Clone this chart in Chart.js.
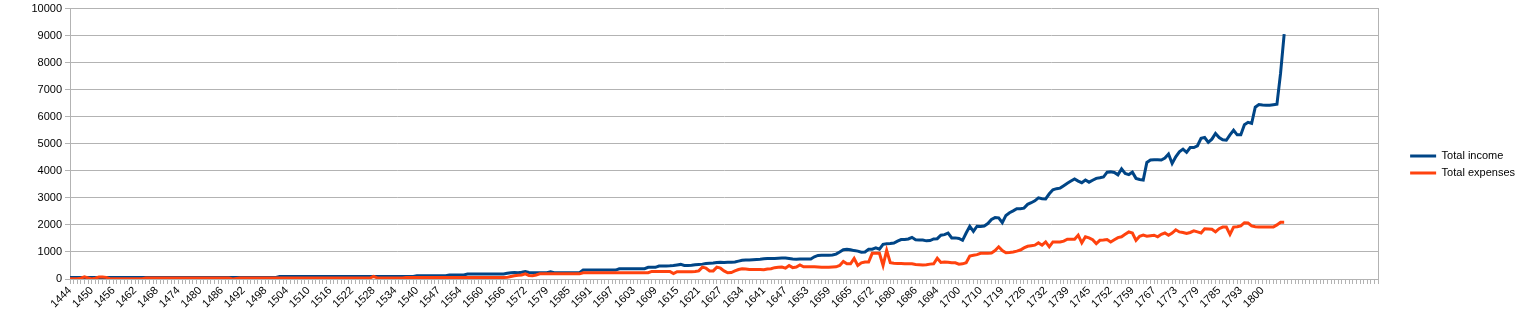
<!DOCTYPE html>
<html><head><meta charset="utf-8">
<script src="https://cdn.jsdelivr.net/npm/chart.js@4.4.1/dist/chart.umd.min.js"></script>
<style>html,body{margin:0;padding:0;background:#fff;}canvas{display:block;}</style>
</head><body>
<canvas id="c" width="1529" height="327"></canvas>
<script>
const categories = [
1444,1445,1446,1447,1448,1449,1450,1451,1452,1453,1454,1455,1456,1457,1458,1459,1460,1461,
1462,1463,1464,1465,1466,1467,1468,1469,1470,1471,1472,1473,1474,1475,1476,1477,1478,1479,
1480,1481,1482,1483,1484,1485,1486,1487,1488,1489,1490,1491,1492,1493,1494,1495,1496,1497,
1498,1499,1500,1501,1502,1503,1504,1505,1506,1507,1508,1509,1510,1511,1512,1513,1514,1515,
1516,1517,1518,1519,1520,1521,1522,1523,1524,1525,1526,1527,1528,1529,1530,1531,1532,1533,
1534,1535,1536,1537,1538,1539,1540,1541,1542,1543,1545,1546,1547,1548,1549,1550,1551,1553,
1554,1555,1556,1557,1558,1559,1560,1561,1562,1563,1564,1565,1566,1567,1568,1569,1570,1571,
1572,1573,1574,1575,1577,1578,1579,1580,1581,1582,1583,1584,1585,1586,1587,1588,1589,1590,
1591,1592,1593,1594,1595,1596,1597,1598,1599,1600,1601,1602,1603,1604,1605,1606,1607,1608,
1609,1610,1611,1612,1613,1614,1615,1616,1617,1618,1619,1620,1621,1622,1623,1624,1625,1626,
1627,1628,1629,1630,1632,1633,1634,1635,1636,1638,1639,1640,1641,1642,1643,1644,1645,1646,
1647,1648,1649,1650,1651,1652,1653,1654,1655,1656,1657,1658,1659,1660,1661,1662,1663,1664,
1665,1666,1667,1668,1670,1671,1672,1673,1675,1676,1677,1679,1680,1681,1682,1683,1684,1685,
1686,1687,1689,1690,1692,1693,1694,1695,1696,1697,1698,1699,1700,1701,1703,1705,1707,1709,
1710,1711,1713,1715,1716,1718,1719,1720,1721,1722,1724,1725,1726,1727,1728,1729,1730,1731,
1732,1733,1734,1736,1737,1738,1739,1740,1741,1742,1743,1744,1745,1746,1747,1749,1750,1751,
1752,1753,1754,1756,1757,1758,1759,1760,1762,1763,1765,1766,1767,1768,1769,1770,1771,1772,
1773,1774,1775,1776,1777,1778,1779,1780,1781,1782,1783,1784,1785,1786,1788,1789,1791,1792,
1793,1794,1795,1796,1797,1799,1800,1801,1802,1803,1804,1805
];

const totalIncome = [
60,60,60,60,60,60,60,60,60,60,
60,60,60,60,60,60,60,60,60,60,
60,60,60,60,60,60,60,60,60,60,
60,60,60,60,60,60,60,60,60,60,
60,60,60,60,60,60,60,60,60,60,
60,60,60,60,60,60,60,60,90,90,
90,90,90,90,90,90,90,90,90,90,
90,90,90,90,90,90,90,90,90,90,
90,90,90,90,90,90,90,90,90,90,
90,90,90,90,90,90,120,120,120,120,
120,120,120,120,120,150,150,150,150,150,
185,185,185,185,185,185,185,185,185,185,
185,210,230,240,235,250,280,240,230,230,
230,230,230,270,235,235,235,235,235,235,
235,235,330,330,330,330,330,330,330,330,
330,330,380,380,380,380,380,380,380,380,
430,430,430,478,480,485,490,500,520,540,
500,500,510,530,540,550,570,580,590,610,
620,610,620,620,630,660,690,700,700,710,
720,730,750,760,760,760,770,780,780,760,
740,730,735,735,735,740,820,870,880,880,
880,890,920,1000,1080,1100,1080,1050,1030,990,
1000,1100,1100,1150,1100,1280,1300,1310,1330,1400,
1460,1460,1480,1540,1450,1440,1440,1410,1420,1480,
1490,1620,1640,1700,1520,1520,1500,1430,1700,1950,
1760,1950,1940,1960,2050,2200,2270,2260,2080,2350,
2450,2520,2600,2600,2620,2760,2820,2890,3000,2970,
2960,3150,3300,3340,3360,3450,3540,3620,3700,3620,
3560,3660,3580,3650,3720,3740,3770,3950,3960,3940,
3850,4070,3900,3860,3950,3720,3680,3660,4310,4400,
4410,4410,4400,4470,4620,4270,4520,4700,4800,4680,
4860,4860,4925,5200,5230,5050,5170,5380,5230,5150,
5130,5330,5500,5330,5330,5700,5790,5750,6350,6450,
6430,6420,6420,6440,6460,7600,9050
];

const totalExpenses = [
10,10,10,30,80,40,0,30,70,70,
60,10,10,10,10,10,10,10,10,10,
10,35,35,35,35,35,35,35,35,35,
35,35,35,35,35,35,35,35,35,35,
35,35,35,35,35,0,20,35,35,35,
35,35,35,35,35,35,35,35,35,35,
35,35,35,35,35,35,35,35,35,35,
35,35,35,35,35,35,35,35,35,35,
35,35,35,35,100,40,40,40,40,40,
40,40,40,55,55,55,55,55,55,55,
55,55,55,55,55,55,55,55,55,55,
55,55,55,55,55,55,55,55,55,55,
55,60,90,120,140,150,190,130,120,150,
190,190,190,190,190,190,190,190,190,190,
190,190,230,230,230,230,230,230,230,230,
230,230,230,230,230,230,230,230,230,230,
230,280,280,280,280,280,280,200,270,270,
270,270,270,280,300,440,400,300,300,440,
400,300,230,240,300,350,380,370,350,350,
350,350,340,370,380,420,430,440,400,500,
420,440,520,450,450,455,450,440,430,430,
430,440,450,500,650,560,560,760,500,600,
630,630,950,950,950,500,1060,600,580,570,
570,560,560,560,540,530,520,530,550,560,
770,610,630,620,600,600,550,560,600,850,
880,900,950,950,950,960,1050,1190,1050,970,
980,1000,1030,1070,1150,1210,1230,1250,1335,1250,
1370,1190,1370,1370,1370,1400,1470,1470,1470,1620,
1335,1560,1520,1450,1310,1430,1440,1460,1370,1450,
1530,1560,1650,1740,1700,1430,1580,1620,1580,1600,
1620,1560,1650,1700,1620,1700,1820,1740,1720,1680,
1720,1780,1740,1700,1860,1850,1840,1740,1860,1920,
1920,1650,1920,1930,1960,2080,2070,1960,1930,1920,
1920,1920,1920,1920,2000,2100,2100
];

const seriesNames = ['Total income', 'Total expenses'];
const seriesColors = ['#004586', '#ff420e'];
const yMin = 0, yMax = 10000, yStep = 1000;
const labelStep = 6;
const emptySlots = 27;

const axisLabels = categories.map(String).concat(new Array(emptySlots).fill(''));
const gridColor = '#b3b3b3';
const font = { family: "'Liberation Sans', Arial, sans-serif", size: 11 };
const yFont = { family: "'Liberation Sans', Arial, sans-serif", size: 11, lineHeight: 1 };

new Chart(document.getElementById('c'), {
  type: 'line',
  data: {
    labels: axisLabels,
    datasets: [
      { label: seriesNames[0], data: totalIncome, borderColor: seriesColors[0], backgroundColor: seriesColors[0],
        borderWidth: 3, pointRadius: 0, tension: 0, order: 1, yAxisID: 'y' },
      { label: seriesNames[1], data: totalExpenses, borderColor: seriesColors[1], backgroundColor: seriesColors[1],
        borderWidth: 3, pointRadius: 0, tension: 0, order: 0, yAxisID: 'y' }
    ]
  },
  options: {
    responsive: false,
    animation: false,
    events: [],
    layout: { padding: { left: 0, right: 4, top: 7, bottom: 5 } },
    plugins: {
      tooltip: { enabled: false },
      legend: {
        position: 'right',
        maxWidth: 122,
        labels: {
          font: font, color: '#000', boxWidth: 26, boxHeight: 3, padding: 6,
          generateLabels: (chart) => chart.data.datasets.map((ds, i) => ({
            text: ds.label, fillStyle: ds.borderColor, strokeStyle: ds.borderColor,
            lineWidth: 0, hidden: false, datasetIndex: i, fontColor: '#000'
          }))
        }
      }
    },
    scales: {
      x: {
        type: 'category',
        offset: false,
        afterFit: (s) => { s.height = 43; },
        grid: { display: true, drawOnChartArea: false, drawTicks: true, tickLength: 5, color: gridColor },
        border: { display: true, color: gridColor },
        ticks: {
          autoSkip: false, maxRotation: 45, minRotation: 45, padding: 0, font: font, color: '#000',
          callback: function (v, i) { return (i % labelStep === 0) ? this.getLabelForValue(v) : ''; }
        }
      },
      y: {
        position: 'left',
        min: yMin, max: yMax,
        afterFit: (s) => { s.width = 70; },
        grid: { color: gridColor, tickLength: 5 },
        border: { display: true, color: gridColor },
        ticks: { stepSize: yStep, font: yFont, color: '#000', padding: 3, callback: (v) => String(v) }
      },
      y2: {
        position: 'right',
        min: 0, max: 1,
        afterFit: (s) => { s.width = 26; },
        grid: { drawOnChartArea: false, drawTicks: false },
        border: { display: true, color: gridColor },
        ticks: { display: false }
      }
    }
  }
});
</script>
</body></html>
